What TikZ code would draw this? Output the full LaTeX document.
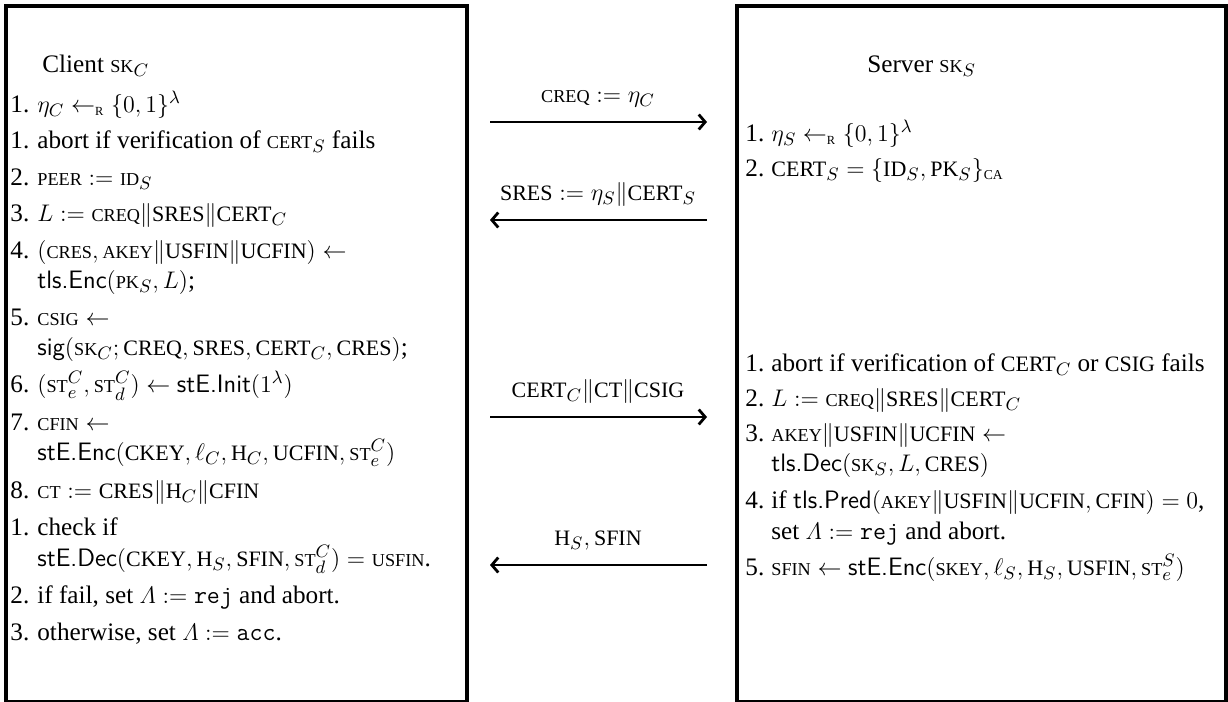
\documentclass[tikz,border=0pt]{standalone}
\usepackage{amsmath}
\usepackage[no-math]{fontspec}
\setmainfont{Liberation Serif}
\usetikzlibrary{arrows.meta}

% faux small capitals at two sizes
\newcommand\sm[1]{\text{\fontsize{9.1}{10}\selectfont #1}}
\newcommand\md[1]{\text{\fontsize{11}{12}\selectfont #1}}
\newcommand\rnd{\leftarrow_{\text{\fontsize{6.2}{7}\selectfont R}}}

\tikzset{
  partybox/.style={draw, line width=2.2pt, inner sep=0pt, anchor=north west},
  ln/.style={anchor=base west, inner sep=0pt, font=\fontsize{12.6}{15}\selectfont},
  msglabel/.style={anchor=base, inner sep=0pt, font=\fontsize{12.6}{15}\selectfont},
  msgarrow/.style={line width=1.4pt, -{Straight Barb[length=3.2pt,width=7.5pt]}},
}

\begin{document}
\begin{tikzpicture}[x=0.5pt, y=-0.5pt]
\useasboundingbox (0,0) rectangle (1228,702);

% the two parties
\node[partybox, minimum width=230.5pt, minimum height=348pt] (client) at (4,4) {};
\node[partybox, minimum width=244.5pt, minimum height=348pt] (server) at (735,4) {};

% client side
\node[ln] (ct) at (42,72) {Client $\sm{SK}_C$};
\node[ln] (cn1) at (10,112) {1.};   \node[ln] (c1) at (37,112) {$\eta_C \rnd \{0,1\}^\lambda$};
\node[ln] (cn2) at (10,148.5) {1.};   \node[ln] (c2) at (37,148.5) {abort if verification of $\sm{CERT}_S$ fails};
\node[ln] (cn3) at (10,185) {2.};   \node[ln] (c3) at (37,185) {$\sm{PEER} := \sm{ID}_S$};
\node[ln] (cn4) at (10,221.5) {3.};   \node[ln] (c4) at (37,221.5) {$L := \sm{CREQ}\|\md{SRES}\|\md{CERT}_C$};
\node[ln] (cn5) at (10,258) {4.};   \node[ln] (c5) at (37,258) {$(\sm{CRES}, \sm{AKEY}\|\md{USFIN}\|\md{UCFIN}) \leftarrow$};
                                   \node[ln] (c5b) at (37,288) {$\textsf{tls.Enc}(\sm{PK}_S, L)$;};
\node[ln] (cn6) at (10,325) {5.};  \node[ln] (c6) at (37,325) {$\sm{CSIG} \leftarrow$};
                                   \node[ln] (c6b) at (37,355) {$\textsf{sig}(\sm{SK}_C; \md{CREQ}, \md{SRES}, \md{CERT}_C, \md{CRES})$;};
\node[ln] (cn7) at (10,392.5) {6.};  \node[ln] (c7) at (37,392.5) {$(\sm{ST}_e^C, \sm{ST}_d^C) \leftarrow \textsf{stE.Init}(1^\lambda)$};
\node[ln] (cn8) at (10,430) {7.};  \node[ln] (c8) at (37,430) {$\sm{CFIN} \leftarrow$};
                                   \node[ln] (c8b) at (37,460.5) {$\textsf{stE.Enc}(\md{CKEY}, \ell_C, \md{H}_C, \md{UCFIN}, \sm{ST}_e^C)$};
\node[ln] (cn9) at (10,498.5) {8.};  \node[ln] (c9) at (37,498.5) {$\sm{CT} := \md{CRES}\|\md{H}_C\|\md{CFIN}$};
\node[ln] (cn10) at (10,535.5) {1.}; \node[ln] (c10) at (37,535.5) {check if};
                                   \node[ln] (c10b) at (37,566) {$\textsf{stE.Dec}(\md{CKEY}, \md{H}_S, \md{SFIN}, \sm{ST}_d^C) = \sm{USFIN}$.};
\node[ln] (cn11) at (10,603) {2.}; \node[ln] (c11) at (37,603) {if fail, set $\varLambda := \texttt{rej}$ and abort.};
\node[ln] (cn12) at (10,640) {3.}; \node[ln] (c12) at (37,640) {otherwise, set $\varLambda := \texttt{acc}$.};

% server side
\node[ln] (st) at (867,72) {Server $\sm{SK}_S$};
\node[ln] (sn1) at (745,141) {1.}; \node[ln] (s1) at (771,141) {$\eta_S \rnd \{0,1\}^\lambda$};
\node[ln] (sn2) at (745,176) {2.}; \node[ln] (s2) at (771,176) {$\md{CERT}_S = \{\md{ID}_S, \md{PK}_S\}_{\text{\fontsize{6.8}{7}\selectfont CA}}$};
\node[ln] (sn3) at (745,371) {1.}; \node[ln] (s3) at (771,371) {abort if verification of $\md{CERT}_C$ or $\md{CSIG}$ fails};
\node[ln] (sn4) at (745,406) {2.}; \node[ln] (s4) at (771,406) {$L := \sm{CREQ}\|\md{SRES}\|\md{CERT}_C$};
\node[ln] (sn5) at (745,441) {3.}; \node[ln] (s5) at (771,441) {$\sm{AKEY}\|\md{USFIN}\|\md{UCFIN} \leftarrow$};
                                   \node[ln] (s5b) at (771,471.5) {$\textsf{tls.Dec}(\sm{SK}_S, L, \md{CRES})$};
\node[ln] (sn6) at (745,508) {4.}; \node[ln] (s6) at (771,508) {if $\textsf{tls.Pred}(\sm{AKEY}\|\md{USFIN}\|\md{UCFIN}, \md{CFIN}) = 0$,};
                                   \node[ln] (s6b) at (771,539) {set $\varLambda := \texttt{rej}$ and abort.};
\node[ln] (sn7) at (745,575) {5.}; \node[ln] (s7) at (771,575) {$\sm{SFIN} \leftarrow \textsf{stE.Enc}(\sm{SKEY}, \ell_S, \md{H}_S, \md{USFIN}, \sm{ST}_e^S)$};

% messages
\coordinate (m1l) at (490,122); \coordinate (m1r) at (707,122);
\coordinate (m2l) at (490,220); \coordinate (m2r) at (707,220);
\coordinate (m3l) at (490,417); \coordinate (m3r) at (707,417);
\coordinate (m4l) at (490,565); \coordinate (m4r) at (707,565);

\draw[msgarrow] (m1l) -- (m1r);
\draw[msgarrow] (m2r) -- (m2l);
\draw[msgarrow] (m3l) -- (m3r);
\draw[msgarrow] (m4r) -- (m4l);

\node[msglabel] (l1) at (598,102) {$\sm{CREQ} := \eta_C$};
\node[msglabel] (l2) at (598,200) {$\md{SRES} := \eta_S\|\md{CERT}_S$};
\node[msglabel] (l3) at (598,397) {$\md{CERT}_C\|\md{CT}\|\md{CSIG}$};
\node[msglabel] (l4) at (598,545) {$\md{H}_S, \md{SFIN}$};
\end{tikzpicture}
\end{document}
